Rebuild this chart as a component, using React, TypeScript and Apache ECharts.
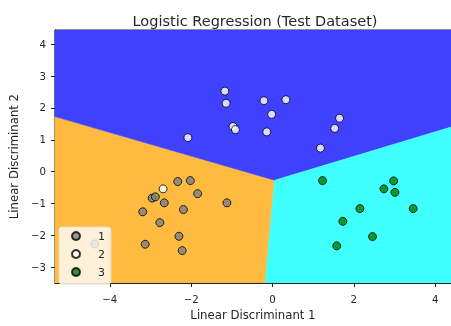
import React, { useEffect, useRef } from "react";
import * as echarts from "echarts";

const xRange = [-5.35, 4.39];
const yRange = [-3.5, 4.45];
const xTicks = [-4, -2, 0, 2, 4];
const yTicks = [-3, -2, -1, 0, 1, 2, 3, 4];

const classNames = ["1", "2", "3"];
const classColors = ["#808080", "#ffffff", "#008000"];
const regionColors = ["#ffbb40", "#4040ff", "#40ffff"];

// Decision regions (polygons in data coordinates)
const regionOrange = [[-5.35, 1.73], [0.05, -0.27], [-0.18, -3.5], [-5.35, -3.5]];
const regionBlue = [[-5.35, 4.45], [4.39, 4.45], [4.39, 1.4], [0.05, -0.27], [-5.35, 1.73]];
const regionCyan = [[0.05, -0.27], [4.39, 1.4], [4.39, -3.5], [-0.18, -3.5]];
const regions = [regionOrange, regionBlue, regionCyan];

const class1 = [
  [-2.33, -0.31], [-2.02, -0.28], [-1.84, -0.69], [-2.96, -0.83], [-2.88, -0.79],
  [-2.66, -0.98], [-2.19, -1.19], [-3.19, -1.26], [-2.77, -1.6], [-2.3, -2.03],
  [-3.13, -2.28], [-2.22, -2.48], [-1.12, -0.98], [-4.37, -2.27],
];
const class2 = [
  [-2.69, -0.54], [-1.17, 2.53], [-1.14, 2.15], [-2.08, 1.07], [-0.97, 1.42],
  [-0.91, 1.32], [-0.21, 2.23], [0.33, 2.26], [-0.02, 1.8], [-0.14, 1.25],
  [1.65, 1.68], [1.53, 1.36], [1.18, 0.74],
];
const class3 = [
  [1.23, -0.28], [2.98, -0.29], [2.74, -0.54], [3.01, -0.65], [2.15, -1.16],
  [3.46, -1.16], [1.73, -1.56], [2.46, -2.04], [1.58, -2.33],
];
const classData = [class1, class2, class3];

const FONT = "DejaVu Sans";
const TEXT = "#262626";
const fmt = (v: number) => String(v).replace("-", "\u2212");

export default function App() {
  const ref = useRef<HTMLDivElement>(null);
  useEffect(() => {
    if (!ref.current) return;
    const chart = echarts.init(ref.current, null, { renderer: "svg" });
    const axisCommon = {
      axisLine: { show: true, onZero: false, lineStyle: { color: "#222", width: 1 } },
      splitLine: { show: false },
    };
    chart.setOption({
      animation: false,
      title: {
        text: "Logistic Regression (Test Dataset)",
        left: 250,
        top: 8,
        textAlign: "center",
        textStyle: { fontFamily: FONT, fontSize: 14.5, fontWeight: "normal", color: TEXT },
      },
      grid: { left: 53, right: 0, top: 30, bottom: 36, show: true, borderColor: "#222", borderWidth: 1, backgroundColor: "transparent" },
      xAxis: {
        type: "value",
        min: xRange[0],
        max: xRange[1],
        ...axisCommon,
        axisTick: { show: true, length: 4, lineStyle: { color: "#222" }, customValues: xTicks },
        axisLabel: { customValues: xTicks, formatter: fmt, fontFamily: FONT, fontSize: 10.2, color: TEXT, margin: 11 },
        name: "Linear Discriminant 1",
        nameLocation: "middle",
        nameGap: 23,
        nameTextStyle: { fontFamily: FONT, fontSize: 11.7, color: TEXT },
      },
      yAxis: {
        type: "value",
        min: yRange[0],
        max: yRange[1],
        ...axisCommon,
        axisTick: { show: true, length: 4, lineStyle: { color: "#222" }, customValues: yTicks },
        axisLabel: { customValues: yTicks, formatter: fmt, fontFamily: FONT, fontSize: 10.2, color: TEXT, margin: 9 },
        name: "Linear Discriminant 2",
        nameLocation: "middle",
        nameGap: 33,
        nameTextStyle: { fontFamily: FONT, fontSize: 11.7, color: TEXT },
      },
      legend: {
        data: classNames,
        orient: "vertical",
        left: 59,
        top: 227,
        padding: [2, 6, 5, 12],
        itemGap: 4,
        itemWidth: 8,
        itemHeight: 8,
        backgroundColor: "rgba(255,255,255,0.8)",
        borderColor: "#e8dccb",
        borderWidth: 1,
        borderRadius: 3,
        textStyle: { fontFamily: FONT, fontSize: 11, color: TEXT, lineHeight: 14, padding: [0, 0, 0, 13] },
      },
      series: [
        {
          type: "custom",
          silent: true,
          z: 1,
          clip: true,
          data: regions.map((_, i) => [i]),
          renderItem: (params: any, api: any) => {
            const poly = regions[params.dataIndex];
            const points = poly.map((p) => api.coord(p));
            return {
              type: "polygon",
              shape: { points },
              style: { fill: regionColors[params.dataIndex], stroke: regionColors[params.dataIndex], lineWidth: 0.5 },
            };
          },
        },
        ...classNames.map((name, i) => ({
          type: "scatter",
          name,
          z: 3,
          data: classData[i],
          symbol: "circle",
          symbolSize: 8,
          itemStyle: { color: classColors[i], borderColor: "#000", borderWidth: 1 },
        })),
      ],
    });
    return () => chart.dispose();
  }, []);
  return <div ref={ref} style={{ position: "fixed", left: 0, top: 0, width: 451, height: 326 }} />;
}
